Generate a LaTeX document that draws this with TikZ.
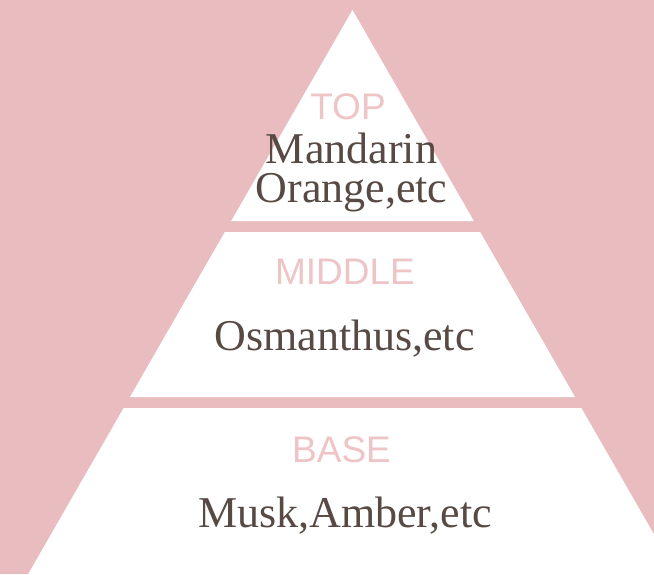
\documentclass[tikz,border=0pt]{standalone}
\usepackage{fontspec}
\newfontfamily\tierfont{Liberation Sans}
\newfontfamily\scentfont{Liberation Serif}
\usetikzlibrary{calc}

\definecolor{rosebg}{HTML}{E9BDBF}
\definecolor{roselabel}{HTML}{EEC4C6}
\definecolor{cocoa}{HTML}{574A44}

\begin{document}
\begin{tikzpicture}[x=1pt, y=-1pt,
        tier/.style={text=roselabel, anchor=base, inner sep=0pt, font=\tierfont\fontsize{37}{40}\selectfont},
        scent/.style={text=cocoa, anchor=base, inner sep=0pt, font=\scentfont\fontsize{44}{39}\selectfont}]
        % Background
        \useasboundingbox (0,0) rectangle (654,574);
        \fill[rosebg] (0,0) rectangle (654,574);
        \clip (0,0) rectangle (654,574);

        % Pyramid bands (apex at 352.5,10, sides with slope 0.575)
        \foreach \ytop/\ybot in {10/221, 232/397, 408/574} {
            \fill[white] ({352.5-0.575*(\ytop-10)},\ytop) -- ({352.5+0.575*(\ytop-10)},\ytop)
                -- ({352.5+0.575*(\ybot-10)},\ybot) -- ({352.5-0.575*(\ybot-10)},\ybot) -- cycle;
        }

        % Top notes
        \node[tier] (top) at (348,119) {TOP};
        \node[scent, anchor=center, align=center] (mandarin) at (351.5,172.5) {Mandarin\\Orange,etc};

        % Middle notes
        \node[tier] (middle) at (345,284) {MIDDLE};
        \node[scent] (osmanthus) at (344.5,350) {Osmanthus,etc};

        % Base notes
        \node[tier] (base) at (341.5,462) {BASE};
        \node[scent] (musk) at (345,527) {Musk,Amber,etc};
    \end{tikzpicture}
\end{document}
